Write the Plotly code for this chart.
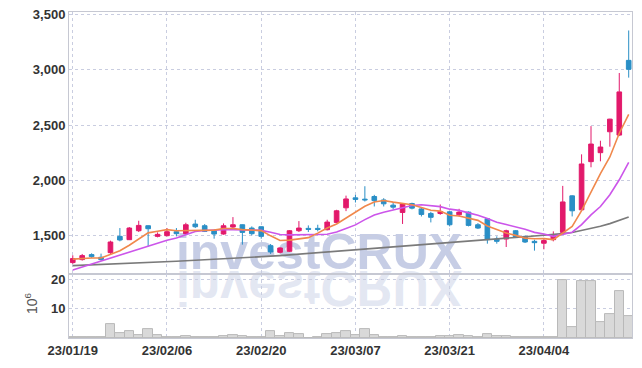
import plotly.graph_objects as go
from plotly.subplots import make_subplots
import pandas as pd

dates = [
    "23/01/19", "23/01/20", "23/01/25", "23/01/26", "23/01/27", "23/01/30", "23/01/31", "23/02/01", "23/02/02", "23/02/03",
    "23/02/06", "23/02/07", "23/02/08", "23/02/09", "23/02/10", "23/02/13", "23/02/14", "23/02/15", "23/02/16", "23/02/17",
    "23/02/20", "23/02/21", "23/02/22", "23/02/23", "23/02/24", "23/02/27", "23/02/28", "23/03/02", "23/03/03", "23/03/06",
    "23/03/07", "23/03/08", "23/03/09", "23/03/10", "23/03/13", "23/03/14", "23/03/15", "23/03/16", "23/03/17", "23/03/20",
    "23/03/21", "23/03/22", "23/03/23", "23/03/24", "23/03/27", "23/03/28", "23/03/29", "23/03/30", "23/03/31", "23/04/03",
    "23/04/04", "23/04/05", "23/04/06", "23/04/07", "23/04/10", "23/04/11", "23/04/12", "23/04/13", "23/04/14", "23/04/17",
]
open_ = [1257, 1284, 1329, 1305, 1347, 1494, 1464, 1545, 1590, 1494,
         1500, 1536, 1518, 1605, 1590, 1545, 1515, 1578, 1599, 1569,
         1581, 1410, 1350, 1359, 1545, 1566, 1566, 1554, 1620, 1752,
         1842, 1830, 1854, 1823, 1776, 1710, 1791, 1742, 1701, 1701,
         1716, 1689, 1713, 1599, 1653, 1470, 1470, 1545, 1494, 1449,
         1432, 1464, 1530, 1860, 1734, 2169, 2250, 2439, 2409, 3084]
high = [1323, 1335, 1341, 1338, 1455, 1569, 1578, 1635, 1593, 1530,
        1569, 1569, 1617, 1644, 1605, 1554, 1611, 1668, 1602, 1584,
        1584, 1425, 1395, 1551, 1632, 1593, 1599, 1644, 1734, 1862,
        1869, 1947, 1869, 1839, 1805, 1792, 1798, 1755, 1716, 1782,
        1720, 1743, 1719, 1614, 1659, 1494, 1554, 1551, 1500, 1464,
        1479, 1539, 1950, 1865, 2235, 2490, 2358, 2556, 2970, 3354]
low = [1245, 1275, 1299, 1275, 1335, 1449, 1461, 1533, 1404, 1485,
       1494, 1494, 1509, 1569, 1533, 1473, 1509, 1554, 1419, 1503,
       1473, 1335, 1341, 1353, 1533, 1533, 1539, 1548, 1614, 1722,
       1800, 1809, 1764, 1764, 1740, 1606, 1738, 1674, 1620, 1689,
       1584, 1674, 1584, 1560, 1428, 1428, 1398, 1479, 1434, 1365,
       1377, 1449, 1512, 1674, 1728, 2118, 2172, 2304, 2400, 2928]
close = [1293, 1320, 1311, 1284, 1443, 1461, 1569, 1593, 1563, 1512,
         1536, 1518, 1599, 1581, 1539, 1515, 1590, 1599, 1530, 1518,
         1494, 1353, 1389, 1545, 1569, 1557, 1557, 1623, 1725, 1832,
         1828, 1824, 1817, 1788, 1758, 1786, 1749, 1692, 1666, 1719,
         1599, 1713, 1593, 1569, 1464, 1449, 1545, 1488, 1443, 1437,
         1456, 1500, 1805, 1725, 2148, 2328, 2301, 2553, 2799, 3003]
volume_m = [0.2, 0.15, 0.2, 0.25, 4.6, 1.8, 2.2, 1.1, 2.9, 0.9,
            0.4, 0.15, 0.8, 0.2, 0.4, 0.4, 0.7, 1.1, 0.8, 0.35,
            0.15, 2.2, 0.6, 1.8, 1.5, 0.1, 0.15, 1.5, 1.8, 2.2,
            0.9, 3.1, 0.9, 0.15, 0.35, 0.7, 0.35, 0.15, 0.15, 0.7,
            0.7, 1.0, 0.7, 0.15, 1.4, 0.7, 0.7, 0.15, 0.15, 0.15,
            0.35, 0.35, 19.8, 3.7, 19.5, 19.5, 5.6, 8.3, 16.2, 7.6]
# moving-average values before the window fills
ma5_head = [1288, 1295, 1298, 1298]
ma10_head = [1190, 1217, 1243, 1270, 1299, 1325, 1352, 1378, 1404]
ma60 = [1230, 1233, 1236, 1239, 1242, 1245, 1249, 1253, 1257, 1261,
        1265, 1269, 1273, 1277, 1281, 1285, 1290, 1295, 1300, 1305,
        1310, 1315, 1320, 1326, 1332, 1338, 1344, 1350, 1357, 1364,
        1371, 1378, 1385, 1392, 1399, 1406, 1413, 1420, 1427, 1434,
        1441, 1448, 1454, 1460, 1466, 1472, 1478, 1484, 1490, 1496,
        1502, 1508, 1519, 1529, 1546, 1566, 1585, 1609, 1637, 1668]
price_ticks = [1500, 2000, 2500, 3000, 3500]
volume_ticks = [10, 20]
watermark = "investCRUX"

cs = pd.Series(close)
ma5 = ma5_head + cs.rolling(5).mean().tolist()[len(ma5_head):]
ma10 = ma10_head + cs.rolling(10).mean().tolist()[len(ma10_head):]

UP = "#e2196b"
DOWN = "#2a8fc6"
GRID = "#c9cde0"
LINE = "#c6c8d2"
TICKFONT = dict(family="Liberation Sans, Arial, sans-serif", size=13, color="#333333", weight="bold")

ML, MR, MT, MB = 69, 10, 12, 30
PW, PH = 642 - ML - MR, 368 - MT - MB

fig = make_subplots(rows=2, cols=1, shared_xaxes=True, vertical_spacing=0,
                    row_heights=[0.804, 0.196])

fig.add_trace(go.Scatter(x=dates, y=ma60, mode="lines",
                         line=dict(color="#7a7a7a", width=1.6), hoverinfo="skip"), row=1, col=1)
fig.add_trace(go.Scatter(x=dates, y=ma10, mode="lines",
                         line=dict(color="#cc55ea", width=1.6), hoverinfo="skip"), row=1, col=1)
fig.add_trace(go.Scatter(x=dates, y=ma5, mode="lines",
                         line=dict(color="#f0884c", width=1.6), hoverinfo="skip"), row=1, col=1)
fig.add_trace(go.Candlestick(
    x=dates, open=open_, high=high, low=low, close=close,
    increasing=dict(line=dict(color=UP, width=1), fillcolor=UP),
    decreasing=dict(line=dict(color=DOWN, width=1), fillcolor=DOWN),
), row=1, col=1)
fig.add_trace(go.Bar(x=dates, y=volume_m, marker=dict(color="#d9d9d9", line=dict(color="#b9b9b9", width=1))),
              row=2, col=1)

xr = [-0.4, len(dates) - 0.65]
tickdates = dates[0::10]
for r in (1, 2):
    fig.update_xaxes(row=r, col=1, type="category", range=xr, tickvals=tickdates, ticktext=tickdates,
                     showgrid=True, gridcolor=GRID, griddash="dot", gridwidth=1,
                     showline=True, mirror=True, linecolor=LINE, linewidth=1,
                     ticks="", tickfont=TICKFONT, rangeslider=dict(visible=False),
                     showticklabels=(r == 2), zeroline=False, automargin=False)

fig.update_yaxes(row=1, col=1, range=[1153, 3521], tickvals=price_ticks, tickformat=",",
                 showgrid=True, gridcolor=GRID, griddash="dot", gridwidth=1,
                 showline=True, mirror=True, linecolor=LINE, linewidth=1,
                 ticks="", tickfont=TICKFONT, zeroline=False, automargin=False)
fig.update_yaxes(row=2, col=1, range=[0, 21.9], tickvals=volume_ticks,
                 showgrid=True, gridcolor=GRID, griddash="dot", gridwidth=1,
                 showline=True, mirror=True, linecolor=LINE, linewidth=1,
                 ticks="", tickfont=TICKFONT, zeroline=False, automargin=False)

# watermark and its reflection (drawn below the data)
for col in ("rgba(192,200,226,0.9)", "rgba(204,210,232,0.55)"):
    fig.add_shape(type="rect", xref="paper", yref="paper",
                  x0=(174 - ML) / PW, x1=(464 - ML) / PW,
                  y0=(MT + PH - 275) / PH, y1=(MT + PH - 219) / PH,
                  line=dict(width=0), fillcolor="rgba(0,0,0,0)", layer="below",
                  label=dict(text=watermark, textposition="middle center",
                             font=dict(family="Liberation Sans, Arial, sans-serif", size=50,
                                       color=col, weight="bold")))

fig.add_annotation(xref="paper", yref="paper", x=(31 - ML) / PW, y=(MT + PH - 303) / PH,
                   xanchor="center", yanchor="middle",
                   text="10<sup>6</sup>", showarrow=False, textangle=-90,
                   font=dict(family="Liberation Sans, Arial, sans-serif", size=14, color="#555555"))

fig.update_layout(width=642, height=368, margin=dict(l=ML, r=MR, t=MT, b=MB, autoexpand=False),
                  paper_bgcolor="white", plot_bgcolor="white", showlegend=False,
                  bargap=0, hovermode=False)

post = """
document.body.style.margin = '0';
document.body.style.padding = '0';
var gd = document.getElementById('{plot_id}');
var groups = gd.querySelectorAll('g.shape-label');
if (groups.length > 1) {
  var g = groups[1];
  var t = g.querySelector('text');
  var y = parseFloat(t.getAttribute('y'));
  var axis = y + 1;
  g.setAttribute('transform', 'translate(0,' + (2 * axis) + ') scale(1,-1)');
}
"""
fig.write_html("out.html", post_script=post, config={"displayModeBar": False})
